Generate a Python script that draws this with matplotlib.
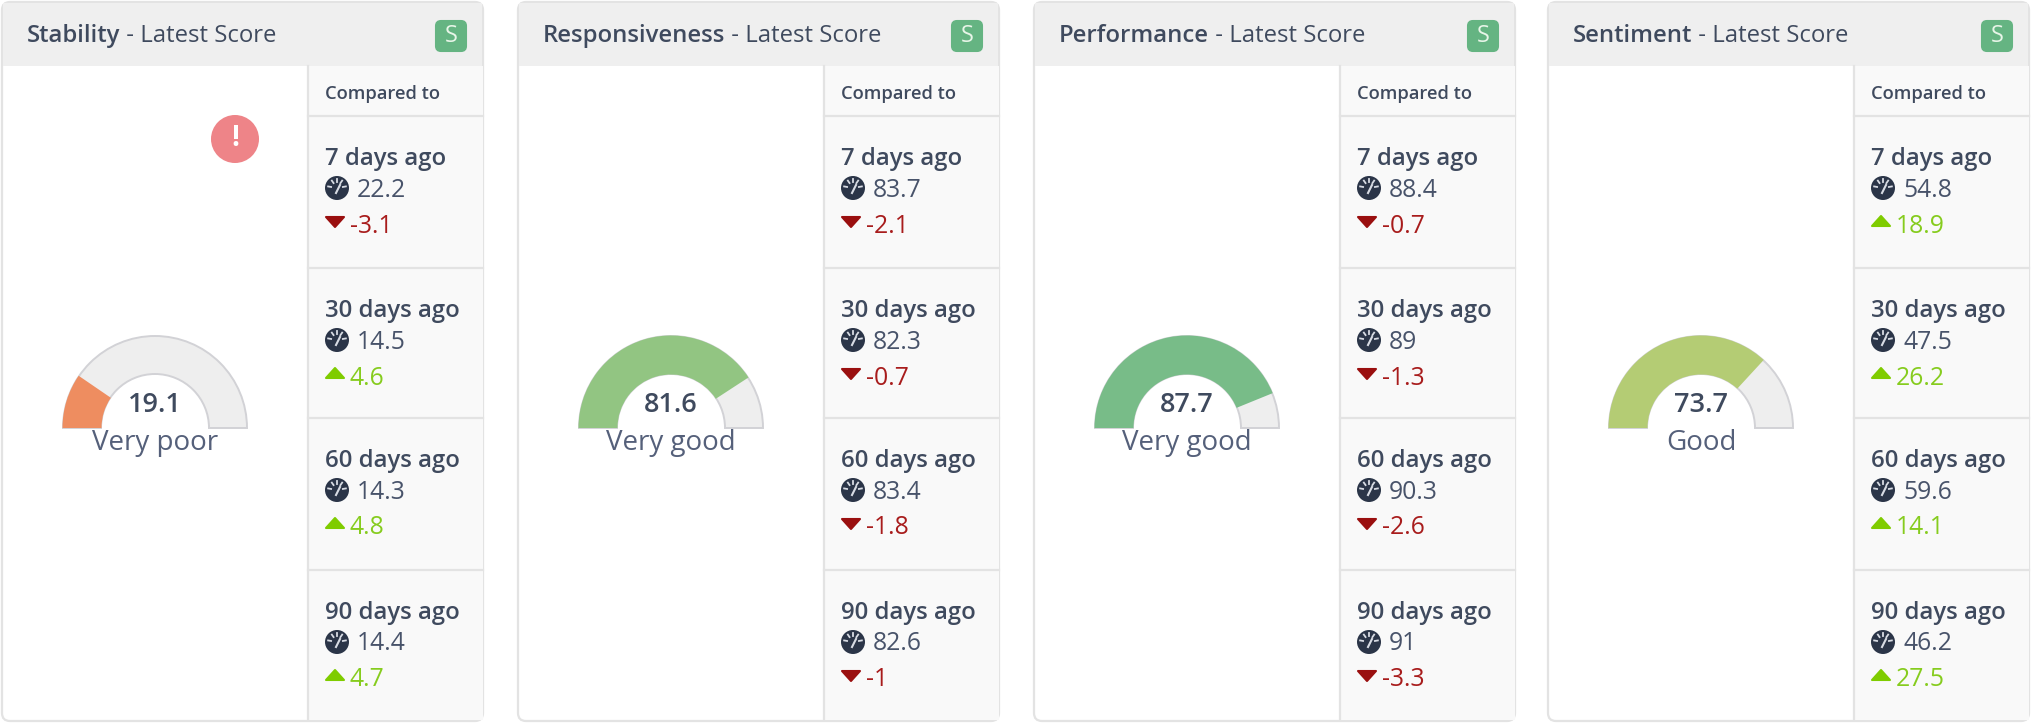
#!/usr/bin/env python3
import numpy as np
import matplotlib
matplotlib.use('Agg')
import matplotlib.pyplot as plt
from matplotlib.patches import Wedge, Circle, Rectangle, FancyBboxPatch, Polygon

plt.rcParams['font.family'] = ['Open Sans', 'DejaVu Sans']

names = ['Stability', 'Responsiveness', 'Performance', 'Sentiment']
scores = [19.1, 81.6, 87.7, 73.7]
ratings = ['Very poor', 'Very good', 'Very good', 'Good']
gauge_colors = ['#EE8D60', '#92C582', '#78BC88', '#B4CC74']
periods = ['7 days ago', '30 days ago', '60 days ago', '90 days ago']
past_labels = [
    ['22.2', '14.5', '14.3', '14.4'],
    ['83.7', '82.3', '83.4', '82.6'],
    ['88.4', '89', '90.3', '91'],
    ['54.8', '47.5', '59.6', '46.2'],
]
delta_labels = [
    ['-3.1', '4.6', '4.8', '4.7'],
    ['-2.1', '-0.7', '-1.8', '-1'],
    ['-0.7', '-1.3', '-2.6', '-3.3'],
    ['18.9', '26.2', '14.1', '27.5'],
]

TEXT = '#3F4A5E'
DARK = '#2B3548'
LINE = '#E3E3E3'
RED = '#A81C1C'
GREEN = '#86CC1E'

panel_left = [2, 518, 1034, 1548]
row_top = [116, 268, 418, 570]

fig = plt.figure(figsize=(20.32, 7.25), dpi=100)
ax = fig.add_axes([0, 0, 1, 1])
ax.set_xlim(0, 2032)
ax.set_ylim(725, 0)
ax.axis('off')


def gauge_icon(x, y):
    ax.add_patch(Circle((x, y), 12, fc=DARK, ec='none', zorder=3))
    for a in np.radians([190, 235, 270, 305, 350]):
        ax.plot([x + 6 * np.cos(a), x + 9 * np.cos(a)],
                [y + 6 * np.sin(a), y + 9 * np.sin(a)],
                color='#D8DCE4', lw=1.3, zorder=4)
    ax.plot([x - 1, x + 3], [y + 5, y - 3], color='#D8DCE4', lw=1.5, zorder=4)


def draw_panel(left, name, score, rating, color, past, deltas):
    right = left + 481
    side = left + 306
    # card with header and the comparison column
    ax.add_patch(FancyBboxPatch((left, 2), 481, 719,
                                boxstyle='round,pad=0,rounding_size=8',
                                fc='white', ec=LINE, lw=1.6, zorder=0))
    ax.add_patch(Rectangle((left + 1, 3), 479, 63, fc='#EFEFEF', ec='none', zorder=1))
    ax.add_patch(Rectangle((side, 66), 175, 654, fc='#F9F9F9', ec='none', zorder=1))
    ax.plot([side, side], [66, 720], color=LINE, lw=1.6, zorder=2)
    for y in row_top:
        ax.plot([side, right], [y, y], color=LINE, lw=1.6, zorder=2)

    head = ax.text(left + 25, 36, name, fontsize=17.2, fontweight='semibold',
                   color=TEXT, va='center', ha='left')
    ax.annotate(' - Latest Score', xy=(1, 0), xycoords=head, va='bottom', ha='left',
                fontsize=17.2, color=TEXT)
    ax.add_patch(FancyBboxPatch((left + 434, 21), 30, 30,
                                boxstyle='round,pad=0,rounding_size=5',
                                fc='#65B482', ec='#65B482', lw=1.5, zorder=3))
    ax.text(left + 449, 36, 'S', fontsize=17, color='#E8F5E8', ha='center', va='center', zorder=4)

    # half ring gauge, the sweep runs left to right over 0-100
    cx, cy = left + 153, 428
    ax.add_patch(Wedge((cx, cy), 92, 180, 360, width=38, fc='#EEEEEE', ec='#D2D2D6', lw=1.4, zorder=2))
    ax.add_patch(Wedge((cx, cy), 92.5, 180, 180 + 180 * score / 100, width=39,
                       fc=color, ec='none', zorder=3))
    ax.text(cx, 405, f'{score}', fontsize=19.5, fontweight='semibold', color=TEXT,
            ha='center', va='center', zorder=4)
    ax.text(cx, 443, rating, fontsize=20, color='#55607A', ha='center', va='center', zorder=4)

    ax.text(side + 17, 94, 'Compared to', fontsize=13.2, fontweight='semibold',
            color=TEXT, va='center', ha='left', zorder=3)
    for top, period, val, delta in zip(row_top, periods, past, deltas):
        x = side + 17
        ax.text(x, top + 43, period, fontsize=17.2, fontweight='semibold', color=TEXT,
                va='center', ha='left', zorder=3)
        gauge_icon(x + 12, top + 72)
        ax.text(x + 32, top + 74, val, fontsize=17.8, color='#48536A', va='center', ha='left', zorder=3)
        down = delta.startswith('-')
        tint = RED if down else GREEN
        y = top + 109
        if down:
            tri = [(x + 1, y - 8), (x + 19, y - 8), (x + 10, y + 2)]
        else:
            tri = [(x + 1, y + 1), (x + 19, y + 1), (x + 10, y - 9)]
        ax.add_patch(Polygon(tri, closed=True, fc='#9A0F0F' if down else '#7FCC00',
                             ec='#9A0F0F' if down else '#7FCC00', lw=1.5, joinstyle='round', zorder=3))
        ax.text(x + 25, y + 1, delta, fontsize=17.8, color=tint, fontweight='medium',
                va='center', ha='left', zorder=3)


for i in range(4):
    draw_panel(panel_left[i], names[i], scores[i], ratings[i], gauge_colors[i],
               past_labels[i], delta_labels[i])

# alert marker on the first card
ax.add_patch(Circle((235, 139), 24, fc='#EE8488', ec='none', zorder=3))
ax.text(235, 138, '!', fontsize=20, fontweight='bold', color='white', ha='center', va='center', zorder=4)

fig.savefig('out.png', dpi=100)
